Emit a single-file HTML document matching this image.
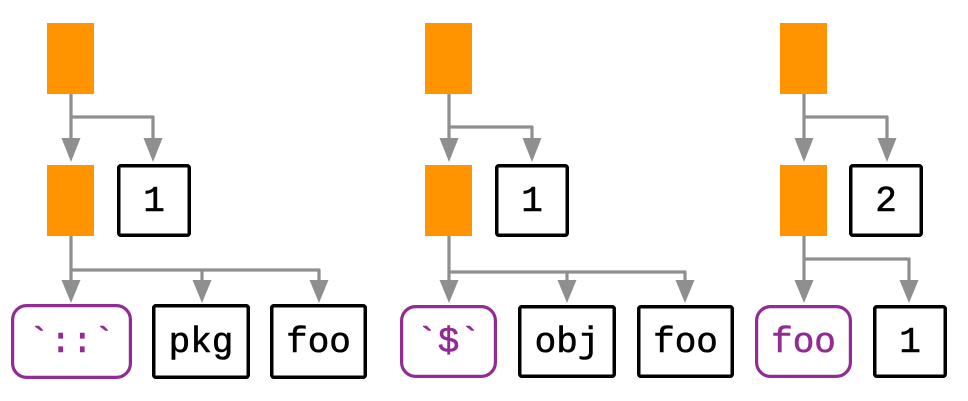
<!DOCTYPE html>
<html>
<head>
<meta charset="utf-8">
<style>
  html, body { margin: 0; padding: 0; background: #ffffff; }
  body { width: 968px; height: 401px; overflow: hidden; }
  svg { display: block; }
  text { font-family: "Liberation Mono", "DejaVu Sans Mono", monospace; font-size: 36px; }
</style>
</head>
<body>
<svg width="968" height="401" viewBox="0 0 968 401" xmlns="http://www.w3.org/2000/svg">
  <defs>
    <style>
      .conn { fill: none; stroke: #8f8f8f; stroke-width: 3.2; stroke-linejoin: round; }
      .ah { fill: #8f8f8f; }
      .or { fill: #ff9300; }
      .bx { fill: #fff; stroke: #000; stroke-width: 3.5; }
      .pb { fill: #fff; stroke: #922b94; stroke-width: 3.2; }
      .tb { fill: #000; stroke: #000; stroke-width: 0.6; }
      .tp { fill: #922b94; stroke: #922b94; stroke-width: 0.6; }
    </style>
  </defs>

  <!-- ============ Panel 1 ============ -->
  <rect class="or" x="47" y="23" width="47" height="71"/>
  <rect class="or" x="47" y="165" width="47" height="71"/>
  <path class="conn" d="M71 94 V142"/>
  <path class="conn" d="M71 117 H153 V142"/>
  <polygon class="ah" points="61.5,138 80.5,138 71,162"/>
  <polygon class="ah" points="143.5,138 162.5,138 153,162"/>
  <rect class="bx" x="118.75" y="165.75" width="70.5" height="69.5" rx="2"/>
  <text class="tb" x="154" y="211" text-anchor="middle">1</text>

  <path class="conn" d="M71 236 V284"/>
  <path class="conn" d="M71 270 H319 V284"/>
  <path class="conn" d="M202 270 V284"/>
  <polygon class="ah" points="61.5,280 80.5,280 71,303"/>
  <polygon class="ah" points="192.5,280 211.5,280 202,303"/>
  <polygon class="ah" points="309.5,280 328.5,280 319,303"/>
  <rect class="pb" x="12.6" y="305.6" width="117.8" height="71.8" rx="14"/>
  <text class="tp" x="71.5" y="352" text-anchor="middle">`::`</text>
  <rect class="bx" x="153.75" y="305.75" width="94.5" height="71.5" rx="2"/>
  <text class="tb" x="201" y="352" text-anchor="middle">pkg</text>
  <rect class="bx" x="271.75" y="305.75" width="93.5" height="71.5" rx="2"/>
  <text class="tb" x="318.5" y="352" text-anchor="middle">foo</text>

  <!-- ============ Panel 2 ============ -->
  <rect class="or" x="425" y="23" width="47" height="71"/>
  <rect class="or" x="425" y="165" width="47" height="71"/>
  <path class="conn" d="M449 94 V142"/>
  <path class="conn" d="M449 127 H532 V142"/>
  <polygon class="ah" points="439.5,138 458.5,138 449,162"/>
  <polygon class="ah" points="522.5,138 541.5,138 532,162"/>
  <rect class="bx" x="496.75" y="165.75" width="70.5" height="69.5" rx="2"/>
  <text class="tb" x="532" y="211" text-anchor="middle">1</text>

  <path class="conn" d="M449 236 V284"/>
  <path class="conn" d="M449 272 H685 V284"/>
  <path class="conn" d="M567 272 V284"/>
  <polygon class="ah" points="439.5,280 458.5,280 449,303"/>
  <polygon class="ah" points="557.5,280 576.5,280 567,303"/>
  <polygon class="ah" points="675.5,280 694.5,280 685,303"/>
  <rect class="pb" x="401.6" y="306.6" width="93.8" height="69.8" rx="14"/>
  <text class="tp" x="448.5" y="352" text-anchor="middle">`$`</text>
  <rect class="bx" x="519.75" y="306.75" width="94.5" height="69.5" rx="2"/>
  <text class="tb" x="567" y="352" text-anchor="middle">obj</text>
  <rect class="bx" x="638.75" y="306.75" width="93.5" height="69.5" rx="2"/>
  <text class="tb" x="685.5" y="352" text-anchor="middle">foo</text>

  <!-- ============ Panel 3 ============ -->
  <rect class="or" x="780" y="23" width="47" height="71"/>
  <rect class="or" x="780" y="165" width="47" height="71"/>
  <path class="conn" d="M804 94 V142"/>
  <path class="conn" d="M804 117 H887 V142"/>
  <polygon class="ah" points="794.5,138 813.5,138 804,162"/>
  <polygon class="ah" points="877.5,138 896.5,138 887,162"/>
  <rect class="bx" x="850.75" y="165.75" width="70.5" height="69.5" rx="2"/>
  <text class="tb" x="886" y="211" text-anchor="middle">2</text>

  <path class="conn" d="M804 236 V284"/>
  <path class="conn" d="M804 259 H909 V284"/>
  <polygon class="ah" points="794.5,280 813.5,280 804,303"/>
  <polygon class="ah" points="899.5,280 918.5,280 909,303"/>
  <rect class="pb" x="756.6" y="306.6" width="93.8" height="69.8" rx="14"/>
  <text class="tp" x="803.5" y="352" text-anchor="middle">foo</text>
  <rect class="bx" x="874.75" y="306.75" width="70.5" height="69.5" rx="2"/>
  <text class="tb" x="910" y="352" text-anchor="middle">1</text>
</svg>
</body>
</html>
